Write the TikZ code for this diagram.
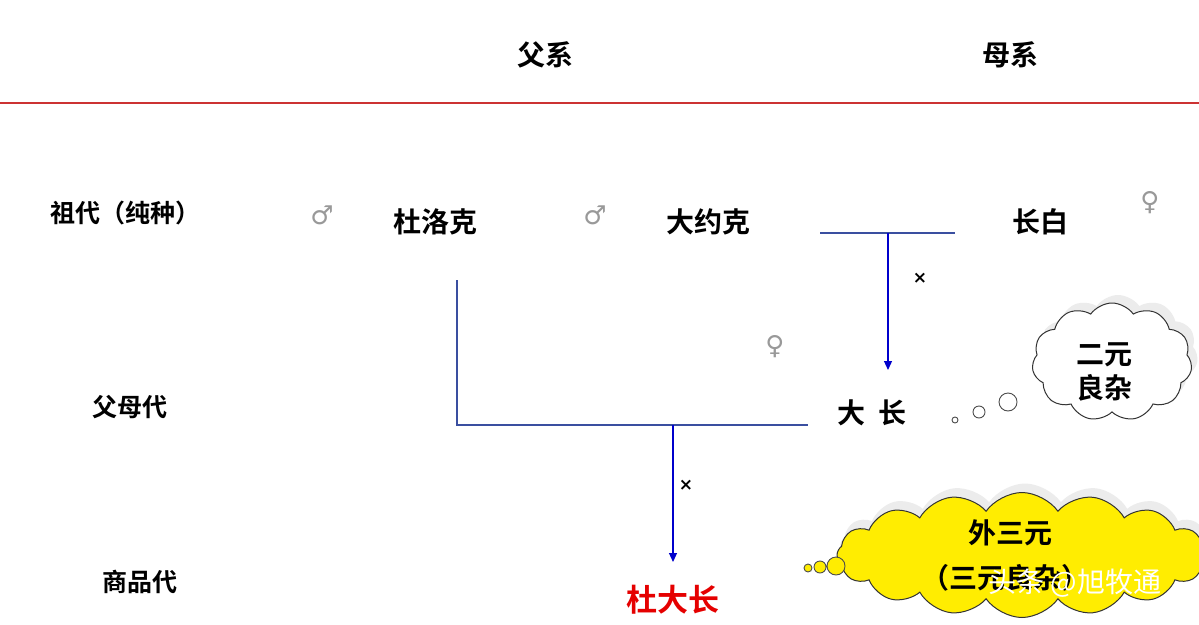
\documentclass[tikz,border=0pt]{standalone}
\usepackage{fontspec}
\usetikzlibrary{shapes.symbols,arrows.meta}
\newfontfamily\cjk{Noto Sans CJK SC}[BoldFont={* Bold}]
\newfontfamily\sym{DejaVu Sans}
\definecolor{ln}{HTML}{3A4FA0}
\tikzset{lab/.style={font=\cjk\bfseries\fontsize{28}{32}\selectfont},
 sml/.style={font=\cjk\bfseries\fontsize{25}{28}\selectfont},
 gsym/.style={font=\sym\fontsize{26}{28}\selectfont, text=gray!80},
 conn/.style={ln, line width=1.2pt},
 arr/.style={conn, -{Triangle[length=9pt,width=8pt]}, blue!80!black},
 cl/.style={cloud, cloud puffs=11, cloud puff arc=110, aspect=1.3, draw=black!80, line width=1pt}}
\begin{document}
\begin{tikzpicture}[x=1pt,y=-1pt]
\useasboundingbox (0,0) rectangle (1199,624);
\fill[white] (0,0) rectangle (1199,624);
\draw[red!75!black!80, line width=1.3pt] (0,103) -- (1199,103);
\node[lab] (fx) at (545,55) {父系};
\node[lab] (mx) at (1010,55) {母系};
\node[sml] (zd) at (125,213) {祖代（纯种）};
\node[gsym] (g1) at (322,215) {♂};
\node[lab] (dlk) at (435,222) {杜洛克};
\node[gsym] (g2) at (595,215) {♂};
\node[lab] (dyk) at (708,222) {大约克};
\node[lab] (cb) at (1040,222) {长白};
\node[gsym] (g3) at (1150,203) {♀};
\node[gsym] (g4) at (775,347) {♀};
\node[sml] (fmd) at (130,407) {父母代};
\node[lab] (dc) at (872,413) {大\ \ 长};
\node[sml] (spd) at (140,582) {商品代};
\node[lab, text=red!90!black, font=\cjk\bfseries\fontsize{31}{34}\selectfont] (ddc) at (673,600) {杜大长};
\coordinate (a1) at (820,233); \coordinate (a2) at (955,233); \coordinate (a3) at (888,233);
\coordinate (a4) at (888,370);
\draw[conn] (a1) -- (a2);
\draw[arr] (a3) -- (a4);
\node[font=\sym\bfseries\fontsize{17}{18}\selectfont] (x1) at (920,278) {×};
\coordinate (b1) at (457,280); \coordinate (b2) at (457,425); \coordinate (b3) at (808,425);
\coordinate (b4) at (673,425); \coordinate (b5) at (673,562);
\draw[conn] (b1) -- (b2) -- (b3);
\draw[arr] (b4) -- (b5);
\node[font=\sym\bfseries\fontsize{17}{18}\selectfont] (x2) at (686,485) {×};
% clouds
\node[cl, fill=gray!15, draw=none] at (1118,354) [minimum width=160, minimum height=118] {};
\node[cl, fill=white, minimum width=160, minimum height=118] (c1) at (1112,362) {};
\node[lab, align=center] (c1t) at (1104,372) {二元\\[2pt]良杂};
\draw[black!70, line width=0.9pt] (955,420) circle (3) (979,412) circle (6) (1008,402) circle (9);
\node[cl, fill=gray!15, draw=none, cloud puffs=16, aspect=3, minimum width=370, minimum height=125] at (1025,546) {};
\node[cl, fill=yellow!95!orange, cloud puffs=16, aspect=3, minimum width=370, minimum height=125] (c2) at (1022,555) {};
\node[lab] (c2a) at (1010,533) {外三元};
\node[lab] (c2b) at (1005,578) {（三元良杂）};
\draw[black!70, fill=yellow!95!orange, line width=0.9pt] (808,568) circle (4) (820,567) circle (6) (836,566) circle (9);
\node[font=\cjk\fontsize{28}{30}\selectfont, text=white] (wm) at (1075,583) {头条 @旭牧通};
\end{tikzpicture}
\end{document}
